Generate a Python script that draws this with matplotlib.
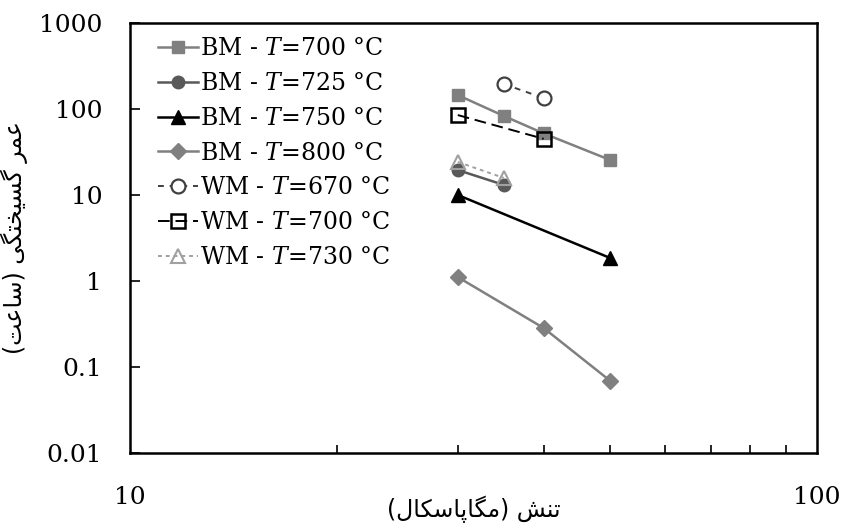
import numpy as np
import matplotlib
matplotlib.use("Agg")
import matplotlib.pyplot as plt
from matplotlib.ticker import FixedLocator, FixedFormatter, NullFormatter, NullLocator

# stress (MPa) and rupture time (h) for each series
x_bm700 = [30, 35, 40, 50]
y_bm700 = [145, 83, 52, 25.5]
x_bm725 = [30, 35]
y_bm725 = [19.5, 13.1]
x_bm750 = [30, 50]
y_bm750 = [10, 1.85]
x_bm800 = [30, 40, 50]
y_bm800 = [1.11, 0.284, 0.069]
x_wm670 = [35, 40]
y_wm670 = [195, 134]
x_wm700 = [30, 40]
y_wm700 = [85, 45]
x_wm730 = [30, 35]
y_wm730 = [24.2, 15.8]

labels = ["BM - $T$=700 °C", "BM - $T$=725 °C", "BM - $T$=750 °C", "BM - $T$=800 °C",
          "WM - $T$=670 °C", "WM - $T$=700 °C", "WM - $T$=730 °C"]

xlabel_fa = "تنش (مگاپاسکال)"
ylabel_fa = "عمر گسیختگی (ساعت)"

# contextual forms: isolated, final, initial, medial (None -> letter does not join forward)
FORMS = {
    "ع": ("\ufec9", "\ufeca", "\ufecb", "\ufecc"),
    "م": ("\ufee1", "\ufee2", "\ufee3", "\ufee4"),
    "ر": ("\ufead", "\ufeae", None, None),
    "گ": ("\ufb92", "\ufb93", "\ufb94", "\ufb95"),
    "س": ("\ufeb1", "\ufeb2", "\ufeb3", "\ufeb4"),
    "ی": ("\ufbfc", "\ufbfd", "\ufbfe", "\ufbff"),
    "خ": ("\ufea5", "\ufea6", "\ufea7", "\ufea8"),
    "ت": ("\ufe95", "\ufe96", "\ufe97", "\ufe98"),
    "ا": ("\ufe8d", "\ufe8e", None, None),
    "ن": ("\ufee5", "\ufee6", "\ufee7", "\ufee8"),
    "ش": ("\ufeb5", "\ufeb6", "\ufeb7", "\ufeb8"),
    "پ": ("\ufb56", "\ufb57", "\ufb58", "\ufb59"),
    "ک": ("\ufb8e", "\ufb8f", "\ufb90", "\ufb91"),
    "ل": ("\ufedd", "\ufede", "\ufedf", "\ufee0"),
}


def shape_rtl(s):
    # pick joined letter forms, then lay the string out right-to-left
    out = []
    for i, ch in enumerate(s):
        if ch not in FORMS:
            out.append(ch)
            continue
        prev = s[i - 1] if i > 0 else ""
        nxt = s[i + 1] if i + 1 < len(s) else ""
        join_prev = prev in FORMS and FORMS[prev][2] is not None
        join_next = nxt in FORMS and FORMS[ch][2] is not None
        iso, fin, ini, med = FORMS[ch]
        if join_prev and join_next:
            out.append(med)
        elif join_prev:
            out.append(fin)
        elif join_next:
            out.append(ini)
        else:
            out.append(iso)
    mirror = {"(": ")", ")": "("}
    return "".join(mirror.get(c, c) for c in reversed(out))


plt.rcParams["font.family"] = "DejaVu Serif"
plt.rcParams["mathtext.fontset"] = "dejavuserif"

fig = plt.figure(figsize=(8.43, 5.26), dpi=100)
ax = fig.add_axes([0.1542, 0.1388, 0.815, 0.8175])

ax.plot(x_bm700, y_bm700, color="#808080", lw=1.8, marker="s", ms=9, label=labels[0])
ax.plot(x_bm725, y_bm725, color="#595959", lw=1.8, marker="o", ms=9, label=labels[1])
ax.plot(x_bm750, y_bm750, color="black", lw=1.8, marker="^", ms=10, label=labels[2])
ax.plot(x_bm800, y_bm800, color="#808080", lw=1.8, marker="D", ms=8, label=labels[3])
ax.plot(x_wm670, y_wm670, color="#404040", lw=1.4, ls=(0, (3, 3)), marker="o", ms=10,
        mfc="white", mec="#404040", mew=1.6, label=labels[4])
ax.plot(x_wm700, y_wm700, color="black", lw=1.4, ls=(0, (6, 3)), marker="s", ms=10,
        mfc="none", mec="black", mew=1.8, label=labels[5])
ax.plot(x_wm730, y_wm730, color="#a0a0a0", lw=1.4, ls=(0, (2, 2)), marker="^", ms=10,
        mfc="none", mec="#a0a0a0", mew=1.5, label=labels[6])

ax.set_xscale("log")
ax.set_yscale("log")
ax.set_xlim(10, 100)
ax.set_ylim(0.01, 1000)

ax.xaxis.set_major_locator(FixedLocator([10, 100]))
ax.xaxis.set_major_formatter(FixedFormatter(["10", "100"]))
ax.xaxis.set_minor_locator(FixedLocator(np.arange(20, 100, 10)))
ax.xaxis.set_minor_formatter(NullFormatter())
ax.yaxis.set_major_locator(FixedLocator([0.01, 0.1, 1, 10, 100, 1000]))
ax.yaxis.set_major_formatter(FixedFormatter(["0.01", "0.1", "1", "10", "100", "1000"]))
ax.yaxis.set_minor_locator(NullLocator())

ax.tick_params(axis="x", which="major", direction="in", length=0, pad=24, labelsize=18)
ax.tick_params(axis="x", which="minor", direction="in", length=6, width=1.2)
ax.tick_params(axis="y", which="major", direction="in", length=7, width=1.2, pad=20, labelsize=18)

for sp in ax.spines.values():
    sp.set_linewidth(1.8)

ax.set_xlabel(shape_rtl(xlabel_fa), family="DejaVu Sans", fontsize=17, labelpad=-10)
ax.set_ylabel(shape_rtl(ylabel_fa), family="DejaVu Sans", fontsize=17, labelpad=8)

ax.legend(loc="upper left", frameon=False, fontsize=17, handlelength=1.7,
          handletextpad=0.1, labelspacing=0.5, borderaxespad=0.2,
          bbox_to_anchor=(0.02, 1.0))

fig.savefig("out.png", dpi=100)
